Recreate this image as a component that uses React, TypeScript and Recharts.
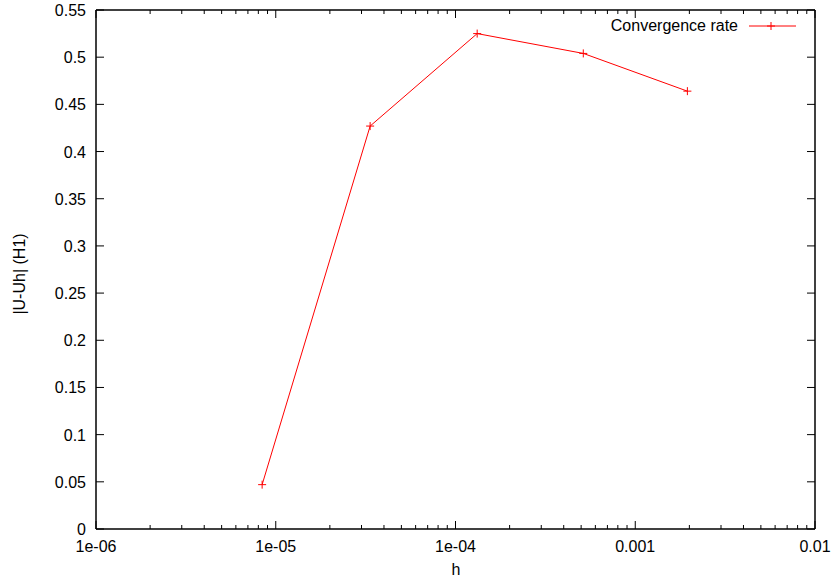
import React from "react";
import {
  LineChart,
  Line,
  XAxis,
  YAxis,
  Customized,
} from "recharts";

// values (log x axis)
const hValues = [8.4e-6, 3.35e-5, 1.32e-4, 5.14e-4, 1.95e-3];
const rateValues = [0.047, 0.427, 0.525, 0.504, 0.464];

const xMajorTicks = [1e-6, 1e-5, 1e-4, 1e-3, 1e-2];
const xMajorLabels = ["1e-06", "1e-05", "1e-04", "0.001", "0.01"];
const yTicks = [0, 0.05, 0.1, 0.15, 0.2, 0.25, 0.3, 0.35, 0.4, 0.45, 0.5, 0.55];
const yTickLabels = ["0", "0.05", "0.1", "0.15", "0.2", "0.25", "0.3", "0.35", "0.4", "0.45", "0.5", "0.55"];

const data = hValues.map((h, i) => ({ h, rate: rateValues[i] }));

// major + minor (2..9) ticks per decade
const xAllTicks: number[] = [];
xMajorTicks.forEach((d, i) => {
  xAllTicks.push(d);
  if (i < xMajorTicks.length - 1) {
    for (let m = 2; m <= 9; m++) xAllTicks.push(+(d * m).toPrecision(3));
  }
});

const FONT = "'Liberation Sans', Arial, Helvetica, sans-serif";
const RED = "#ff0000";
const MAJOR = 8;
const MINOR = 4;
const BORDER = { stroke: "#000", strokeWidth: 1.5 };

const majorIndex = (v: number) =>
  xMajorTicks.findIndex((t) => Math.abs(t - v) / t < 1e-6);

const BottomTick = (props: any) => {
  const { x, y, payload } = props;
  const idx = majorIndex(payload.value);
  const len = idx >= 0 ? MAJOR : MINOR;
  return (
    <g>
      <line x1={x} x2={x} y1={y} y2={y - len} stroke="#000" />
      {idx >= 0 && (
        <text x={x} y={y + 23} textAnchor="middle" fontSize={16} fontFamily={FONT} fill="#000">
          {xMajorLabels[idx]}
        </text>
      )}
    </g>
  );
};

const TopTick = (props: any) => {
  const { x, y, payload } = props;
  const len = majorIndex(payload.value) >= 0 ? MAJOR : MINOR;
  return <line x1={x} x2={x} y1={y} y2={y + len} stroke="#000" />;
};

const LeftTick = (props: any) => {
  const { x, y, index } = props;
  return (
    <g>
      <line x1={x} x2={x + MAJOR} y1={y} y2={y} stroke="#000" />
      <text x={x - 10} y={y + 6} textAnchor="end" fontSize={16} fontFamily={FONT} fill="#000">
        {yTickLabels[index]}
      </text>
    </g>
  );
};

const RightTick = (props: any) => {
  const { x, y } = props;
  return <line x1={x} x2={x - MAJOR} y1={y} y2={y} stroke="#000" />;
};

const PlusDot = (props: any) => {
  const { cx, cy } = props;
  if (cx == null || cy == null) return null;
  return (
    <g>
      <line x1={cx - 4} x2={cx + 4} y1={cy} y2={cy} stroke={RED} />
      <line x1={cx} x2={cx} y1={cy - 4} y2={cy + 4} stroke={RED} />
    </g>
  );
};

// axis titles and the gnuplot-style key in the top right
const Overlay = () => (
  <g fontFamily={FONT} fontSize={16} fill="#000">
    <text x={456} y={575} textAnchor="middle">h</text>
    <text x={25} y={274} textAnchor="middle" transform="rotate(-90 25 274)">
      |U-Uh| (H1)
    </text>
    <text x={738} y={31} textAnchor="end">Convergence rate</text>
    <line x1={749} x2={796} y1={26} y2={26} stroke={RED} />
    <line x1={767} x2={775} y1={26} y2={26} stroke={RED} />
    <line x1={771} x2={771} y1={22} y2={30} stroke={RED} />
  </g>
);

export default function App() {
  return (
    <div style={{ width: 835, height: 578, overflow: "hidden" }}>
      <style>{`body{margin:0}`}</style>
      <LineChart
        width={835}
        height={578}
        data={data}
        margin={{ top: 0, right: 0, bottom: 0, left: 0 }}
      >
        <XAxis
          xAxisId="b"
          dataKey="h"
          type="number"
          scale="log"
          domain={[1e-6, 1e-2]}
          allowDataOverflow
          ticks={xAllTicks}
          interval={0}
          height={49}
          tickSize={0}
          tickMargin={0}
          tickLine={false}
          axisLine={BORDER}
          tick={<BottomTick />}
        />
        <XAxis
          xAxisId="t"
          orientation="top"
          dataKey="h"
          type="number"
          scale="log"
          domain={[1e-6, 1e-2]}
          allowDataOverflow
          ticks={xAllTicks}
          interval={0}
          height={10}
          tickSize={0}
          tickMargin={0}
          tickLine={false}
          axisLine={BORDER}
          tick={<TopTick />}
        />
        <YAxis
          yAxisId="l"
          type="number"
          domain={[0, 0.55]}
          allowDataOverflow
          ticks={yTicks}
          interval={0}
          width={96}
          tickSize={0}
          tickMargin={0}
          tickLine={false}
          axisLine={BORDER}
          tick={<LeftTick />}
        />
        <YAxis
          yAxisId="r"
          orientation="right"
          type="number"
          domain={[0, 0.55]}
          allowDataOverflow
          ticks={yTicks}
          interval={0}
          width={20}
          tickSize={0}
          tickMargin={0}
          tickLine={false}
          axisLine={BORDER}
          tick={<RightTick />}
        />
        <Line
          xAxisId="b"
          yAxisId="l"
          dataKey="rate"
          stroke={RED}
          strokeWidth={1}
          dot={<PlusDot />}
          activeDot={false}
          isAnimationActive={false}
        />
        <Customized component={Overlay} />
      </LineChart>
    </div>
  );
}
